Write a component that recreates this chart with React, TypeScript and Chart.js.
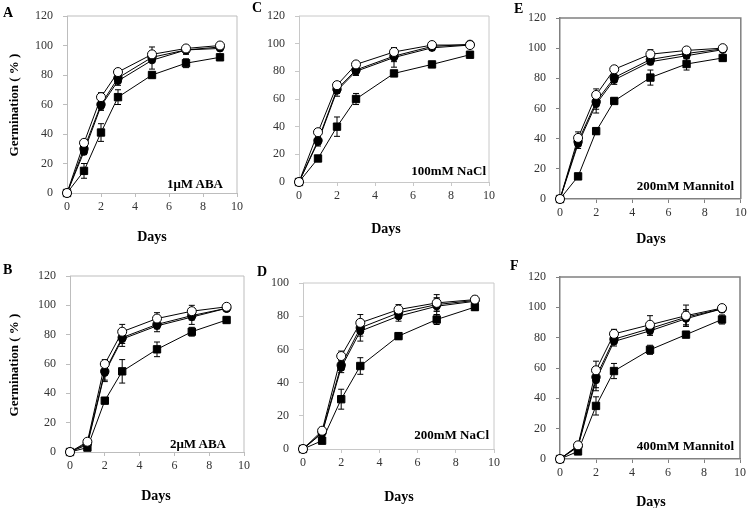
import React, { useEffect, useRef } from "react";
import { Chart, registerables } from "chart.js";
Chart.register(...registerables);

const W = 747;
const H = 508;
const FONT = "'Liberation Serif', 'Times New Roman', serif";

// shared
const days = [0, 1, 2, 3, 5, 7, 9];
const xTickStep = 2;

// Panel A: 1μM ABA
const aOpenCircle = [0, 34, 65, 82, 94, 98, 100];
const aFilledCircle = [0, 30, 60, 78, 92, 97, 99];
const aThird = [0, 28, 59, 76, 90, 97, 98];
const aFilledSquare = [0, 15, 41, 65, 80, 88, 92];
const aOpenCircleErr = [0, 2, 3, 2, 5, 2, 1];
const aFilledCircleErr = [0, 2, 3, 3, 3, 2, 1];
const aThirdErr = [0, 2, 3, 3, 6, 3, 1];
const aFilledSquareErr = [0, 5, 6, 5, 2, 3, 2];

// Panel B: 2μM ABA
const bOpenCircle = [0, 7, 60, 82, 91, 96, 99];
const bFilledCircle = [0, 6, 55, 78, 87, 93, 98];
const bThird = [0, 5, 54, 77, 86, 92, 98];
const bFilledSquare = [0, 3, 35, 55, 70, 82, 90];
const bOpenCircleErr = [0, 1, 3, 5, 4, 4, 2];
const bFilledCircleErr = [0, 1, 6, 4, 3, 3, 2];
const bThirdErr = [0, 1, 6, 5, 4, 5, 2];
const bFilledSquareErr = [0, 1, 2, 8, 5, 3, 2];

// Panel C: 100mM NaCl
const cOpenCircle = [0, 36, 70, 85, 94, 99, 99];
const cFilledCircle = [0, 30, 67, 81, 91, 98, 99.5];
const cThird = [0, 29, 66, 80, 90, 97, 99];
const cFilledSquare = [0, 17, 40, 60, 78.5, 85, 92];
const cOpenCircleErr = [0, 2, 2, 2, 3, 2, 1];
const cFilledCircleErr = [0, 3, 3, 3, 4, 2, 1];
const cThirdErr = [0, 3, 4, 3, 7, 2, 1];
const cFilledSquareErr = [0, 2, 7, 4, 2, 1, 2];

// Panel D: 200mM NaCl
const dOpenCircle = [0, 11, 56, 76, 84, 88, 90];
const dFilledCircle = [0, 10, 50.5, 73, 82, 87, 89.5];
const dThird = [0, 9.5, 49, 71, 80, 86, 89];
const dFilledSquare = [0, 5, 30, 50, 68, 78, 85.5];
const dOpenCircleErr = [0, 2, 3, 5, 3, 5, 2];
const dFilledCircleErr = [0, 2, 3, 5, 3, 4, 2];
const dThirdErr = [0, 2, 3, 6, 3, 5, 2];
const dFilledSquareErr = [0, 1, 6, 5, 2, 3, 2];

// Panel E: 200mM Mannitol
const eOpenCircle = [0, 40.5, 69, 86, 96, 98.5, 100];
const eFilledCircle = [0, 38, 64.5, 80.5, 92.5, 96.5, 99.5];
const eThird = [0, 36.5, 63, 79, 91, 95, 99];
const eFilledSquare = [0, 15, 45, 65, 80.5, 89.5, 93.5];
const eOpenCircleErr = [0, 4, 4, 2, 3, 2, 1];
const eFilledCircleErr = [0, 3, 5, 3, 2, 2, 1];
const eThirdErr = [0, 3, 6, 3, 2, 2, 1];
const eFilledSquareErr = [0, 2, 2, 2, 5, 4, 2];

// Panel F: 400mM Mannitol
const fOpenCircle = [0, 9, 58.5, 82.5, 88.5, 94.5, 99.5];
const fFilledCircle = [0, 8.5, 54, 79, 86, 93.5, 99];
const fThird = [0, 8, 52, 77.5, 84.5, 92.5, 99];
const fFilledSquare = [0, 5, 35, 58, 72, 82, 92];
const fOpenCircleErr = [0, 2, 6, 3, 6, 7, 2];
const fFilledCircleErr = [0, 2, 7, 3, 3, 5, 2];
const fThirdErr = [0, 2, 7, 3, 3, 5, 2];
const fFilledSquareErr = [0, 1, 6, 5, 3, 1, 3];

type SeriesSet = { vals: number[][]; errs: number[][] };

const panelData: Record<string, SeriesSet> = {
  A: { vals: [aOpenCircle, aFilledCircle, aThird, aFilledSquare], errs: [aOpenCircleErr, aFilledCircleErr, aThirdErr, aFilledSquareErr] },
  B: { vals: [bOpenCircle, bFilledCircle, bThird, bFilledSquare], errs: [bOpenCircleErr, bFilledCircleErr, bThirdErr, bFilledSquareErr] },
  C: { vals: [cOpenCircle, cFilledCircle, cThird, cFilledSquare], errs: [cOpenCircleErr, cFilledCircleErr, cThirdErr, cFilledSquareErr] },
  D: { vals: [dOpenCircle, dFilledCircle, dThird, dFilledSquare], errs: [dOpenCircleErr, dFilledCircleErr, dThirdErr, dFilledSquareErr] },
  E: { vals: [eOpenCircle, eFilledCircle, eThird, eFilledSquare], errs: [eOpenCircleErr, eFilledCircleErr, eThirdErr, eFilledSquareErr] },
  F: { vals: [fOpenCircle, fFilledCircle, fThird, fFilledSquare], errs: [fOpenCircleErr, fFilledCircleErr, fThirdErr, fFilledSquareErr] },
};

// layout (pixels) — kept separate from data
type Layout = {
  key: string;
  label: string;
  yMax: number;
  area: { l: number; t: number; r: number; b: number };
  frame: string;
  frameW: number;
  letter: [number, number];
  days: [number, number];
  inset: [number, number];
  yTitle?: [number, number];
};

const panels: Layout[] = [
  { key: "A", label: "1μM ABA", yMax: 120, area: { l: 67, t: 16, r: 237, b: 193 }, frame: "#bdbdbd", frameW: 1, letter: [3, 13], days: [152, 237], inset: [223, 183], yTitle: [13, 105] },
  { key: "B", label: "2μM ABA", yMax: 120, area: { l: 70, t: 276, r: 244, b: 452 }, frame: "#bdbdbd", frameW: 1, letter: [3, 270], days: [156, 496], inset: [226, 443], yTitle: [13, 365] },
  { key: "C", label: "100mM NaCl", yMax: 120, area: { l: 299, t: 16, r: 489, b: 182 }, frame: "#c8c8c8", frameW: 1, letter: [252, 8], days: [386, 229], inset: [486, 170] },
  { key: "D", label: "200mM NaCl", yMax: 100, area: { l: 303, t: 283, r: 494, b: 449 }, frame: "#c8c8c8", frameW: 1, letter: [257, 272], days: [399, 497], inset: [489, 434] },
  { key: "E", label: "200mM Mannitol", yMax: 120, area: { l: 560, t: 18, r: 741, b: 199 }, frame: "#808080", frameW: 1.5, letter: [514, 9], days: [651, 239], inset: [734, 185] },
  { key: "F", label: "400mM Mannitol", yMax: 120, area: { l: 560, t: 277, r: 740, b: 459 }, frame: "#808080", frameW: 1.5, letter: [510, 266], days: [651, 502], inset: [734, 445] },
];

const YW = 40;
const XH = 30;

const seriesStyles = [
  { pointStyle: "circle", pointRadius: 4.5, pointBackgroundColor: "#ffffff" },
  { pointStyle: "circle", pointRadius: 4.2, pointBackgroundColor: "#000000" },
  { pointStyle: "circle", pointRadius: 3.6, pointBackgroundColor: "#000000" },
  { pointStyle: "rect", pointRadius: 5.2, pointBackgroundColor: "#000000" },
];

const errorBarPlugin = {
  id: "errorBars",
  beforeDatasetsDraw(chart: any) {
    const ctx = chart.ctx;
    const xs = chart.scales.x;
    const ys = chart.scales.y;
    ctx.save();
    ctx.strokeStyle = "#000";
    ctx.lineWidth = 1;
    chart.data.datasets.forEach((ds: any) => {
      const errs: number[] = ds.errors || [];
      ds.data.forEach((p: any, i: number) => {
        const e = errs[i];
        if (!e) return;
        const x = xs.getPixelForValue(p.x);
        const y1 = ys.getPixelForValue(p.y + e);
        const y2 = ys.getPixelForValue(p.y - e);
        ctx.beginPath();
        ctx.moveTo(x, y1);
        ctx.lineTo(x, y2);
        ctx.moveTo(x - 3, y1);
        ctx.lineTo(x + 3, y1);
        ctx.moveTo(x - 3, y2);
        ctx.lineTo(x + 3, y2);
        ctx.stroke();
      });
    });
    ctx.restore();
  },
};

const framePlugin = {
  id: "frameBox",
  beforeDatasetsDraw(chart: any, _args: any, opts: any) {
    const { left, right, top, bottom } = chart.chartArea;
    const ctx = chart.ctx;
    ctx.save();
    ctx.strokeStyle = opts.color;
    ctx.lineWidth = opts.width;
    ctx.beginPath();
    ctx.moveTo(left, top);
    ctx.lineTo(right, top);
    ctx.lineTo(right, bottom);
    ctx.stroke();
    ctx.restore();
  },
};

function Panel({ p }: { p: Layout }) {
  const ref = useRef<HTMLCanvasElement | null>(null);
  useEffect(() => {
    if (!ref.current) return;
    const d = panelData[p.key];
    const datasets = d.vals.map((vals, si) => ({
      data: days.map((x, i) => ({ x, y: vals[i] })),
      errors: d.errs[si],
      borderColor: "#000",
      borderWidth: 1,
      pointBorderColor: "#000",
      pointBorderWidth: 1,
      clip: false,
      ...seriesStyles[si],
    }));
    const chart = new Chart(ref.current, {
      type: "line",
      data: { datasets: datasets as any },
      plugins: [errorBarPlugin, framePlugin],
      options: {
        animation: false,
        responsive: false,
        maintainAspectRatio: false,
        layout: {
          padding: {
            left: p.area.l - YW,
            top: p.area.t,
            right: W - p.area.r,
            bottom: H - p.area.b - XH,
          },
        },
        plugins: {
          legend: { display: false },
          tooltip: { enabled: false },
          frameBox: { color: p.frame, width: p.frameW },
        } as any,
        scales: {
          x: {
            type: "linear",
            min: 0,
            max: 10,
            ticks: { stepSize: xTickStep, font: { family: FONT, size: 12 }, color: "#333", padding: 3 },
            grid: { drawOnChartArea: false, drawTicks: true, tickLength: 4, color: p.frame },
            border: { color: p.frame, width: p.frameW },
            afterFit: (s: any) => {
              s.height = XH;
              s.paddingLeft = 0;
              s.paddingRight = 0;
            },
          },
          y: {
            min: 0,
            max: p.yMax,
            ticks: { stepSize: 20, font: { family: FONT, size: 12 }, color: "#333", padding: 10 },
            grid: { drawOnChartArea: false, drawTicks: true, tickLength: 4, color: p.frame },
            border: { color: p.frame, width: p.frameW },
            afterFit: (s: any) => {
              s.width = YW;
              s.paddingTop = 0;
              s.paddingBottom = 0;
            },
          },
        },
      },
    });
    return () => chart.destroy();
  }, [p]);

  const base: React.CSSProperties = {
    position: "absolute",
    fontFamily: FONT,
    fontWeight: "bold",
    color: "#000",
    whiteSpace: "nowrap",
    lineHeight: 1,
  };

  return (
    <>
      <canvas
        ref={ref}
        width={W}
        height={H}
        style={{ position: "absolute", left: 0, top: 0, width: W, height: H }}
      />
      <div style={{ ...base, left: p.letter[0], top: p.letter[1], fontSize: 14, transform: "translateY(-50%)" }}>{p.key}</div>
      <div style={{ ...base, left: p.days[0], top: p.days[1], fontSize: 14, transform: "translate(-50%,-50%)" }}>Days</div>
      <div style={{ ...base, left: p.inset[0], top: p.inset[1], fontSize: 13, transform: "translate(-100%,-50%)" }}>{p.label}</div>
      {p.yTitle && (
        <div style={{ ...base, left: p.yTitle[0], top: p.yTitle[1], fontSize: 13, transform: "translate(-50%,-50%) rotate(-90deg)" }}>
          Germination ( % )
        </div>
      )}
    </>
  );
}

export default function App() {
  return (
    <div style={{ position: "absolute", left: 0, top: 0, width: W, height: H, overflow: "hidden", background: "#fff" }}>
      {panels.map((p) => (
        <Panel key={p.key} p={p} />
      ))}
    </div>
  );
}
